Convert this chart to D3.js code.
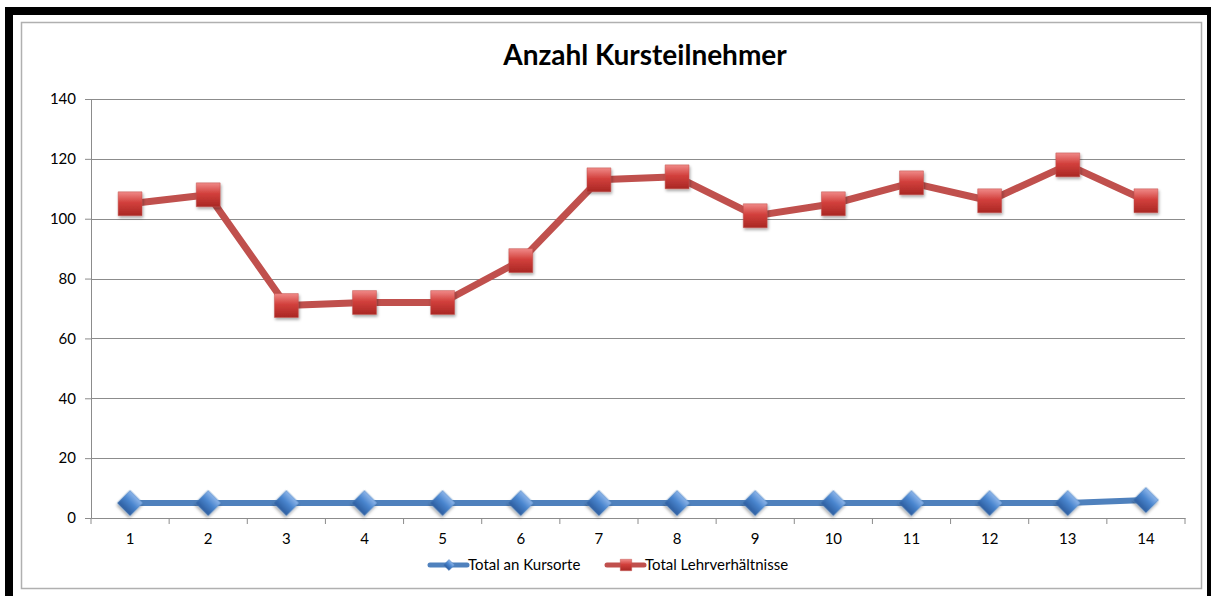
<!DOCTYPE html>
<html>
<head>
<meta charset="utf-8">
<script src="https://cdn.jsdelivr.net/npm/d3@7"></script>
<style>
  body { margin: 0; background: #fff; }
  svg { display: block; font-family: Lato, "Open Sans", sans-serif; }
</style>
</head>
<body>
<svg id="chart"></svg>
<script>
const categories = ["1", "2", "3", "4", "5", "6", "7", "8", "9", "10", "11", "12", "13", "14"];
const kursorte = [5, 5, 5, 5, 5, 5, 5, 5, 5, 5, 5, 5, 5, 6];
const lehrverhaeltnisse = [105, 108, 71, 72, 72, 86, 113, 114, 101, 105, 112, 106, 118, 106];
const yTicks = [0, 20, 40, 60, 80, 100, 120, 140];

const width = 1211;
const height = 596;
const margin = { top: 99, right: 26, bottom: 78, left: 91 };

const svg = d3.select("#chart").attr("width", width).attr("height", height);

// frame
svg.append("rect").attr("x", 9).attr("y", 11).attr("width", 1202).attr("height", 590)
  .attr("fill", "none").attr("stroke", "#000").attr("stroke-width", 8);
svg.append("rect").attr("x", 21.5).attr("y", 22.5).attr("width", 1180).attr("height", 566)
  .attr("fill", "none").attr("stroke", "#b0b0b0").attr("stroke-width", 1.5);

const defs = svg.append("defs");
const redGrad = defs.append("linearGradient").attr("id", "redGrad").attr("x1", 0).attr("y1", 0).attr("x2", 0).attr("y2", 1);
redGrad.append("stop").attr("offset", "0%").attr("stop-color", "#f08a88");
redGrad.append("stop").attr("offset", "45%").attr("stop-color", "#d2403c");
redGrad.append("stop").attr("offset", "100%").attr("stop-color", "#a92724");
const blueGrad = defs.append("linearGradient").attr("id", "blueGrad").attr("x1", 0).attr("y1", 0).attr("x2", 0).attr("y2", 1);
blueGrad.append("stop").attr("offset", "0%").attr("stop-color", "#8fb6ea");
blueGrad.append("stop").attr("offset", "45%").attr("stop-color", "#4a86cf");
blueGrad.append("stop").attr("offset", "100%").attr("stop-color", "#2c5c9e");
const shadow = defs.append("filter").attr("id", "shadow").attr("x", "-50%").attr("y", "-50%").attr("width", "200%").attr("height", "200%");
shadow.append("feDropShadow").attr("dx", 1).attr("dy", 2).attr("stdDeviation", 1.5).attr("flood-color", "#000").attr("flood-opacity", 0.35);

const x = d3.scaleBand().domain(categories).range([margin.left, width - margin.right]);
const y = d3.scaleLinear().domain([0, 140]).range([height - margin.bottom, margin.top]);

// title
svg.append("text").attr("x", 645).attr("y", 65).attr("text-anchor", "middle")
  .attr("font-size", 28).attr("font-weight", "bold").attr("fill", "#000")
  .text("Anzahl Kursteilnehmer");

// grid
svg.append("g").selectAll("line").data(yTicks.filter(d => d > 0)).join("line")
  .attr("x1", margin.left).attr("x2", width - margin.right)
  .attr("y1", d => Math.round(y(d)) + 0.5).attr("y2", d => Math.round(y(d)) + 0.5)
  .attr("stroke", "#8c8c8c").attr("stroke-width", 1);

// y axis
const yAxis = svg.append("g").attr("transform", `translate(${margin.left},0)`)
  .call(d3.axisLeft(y).tickValues(yTicks).tickSize(6).tickPadding(9));
yAxis.select(".domain").attr("stroke", "#8c8c8c");
yAxis.selectAll(".tick line").attr("stroke", "#8c8c8c");
yAxis.selectAll("text").attr("font-size", 15).attr("fill", "#000").attr("font-family", "Lato, sans-serif");

// x axis
const xAxis = svg.append("g").attr("transform", `translate(0,${height - margin.bottom})`)
  .call(d3.axisBottom(x).tickSize(0).tickPadding(15));
xAxis.select(".domain").attr("stroke", "#8c8c8c");
xAxis.selectAll("text").attr("font-size", 15).attr("fill", "#000").attr("font-family", "Lato, sans-serif");
svg.append("g").selectAll("line").data(d3.range(categories.length + 1)).join("line")
  .attr("x1", i => margin.left + i * x.step()).attr("x2", i => margin.left + i * x.step())
  .attr("y1", height - margin.bottom).attr("y2", height - margin.bottom + 6)
  .attr("stroke", "#8c8c8c");

const cx = (d, i) => x(categories[i]) + x.bandwidth() / 2;
const line = d3.line().x(cx).y(d => y(d));

// diamond = square turned 45 degrees
function drawSeries(values, color, grad, diamond, size, lw) {
  svg.append("path").datum(values).attr("d", line).attr("fill", "none")
    .attr("stroke", color).attr("stroke-width", lw).attr("stroke-linejoin", "round");
  svg.append("g").selectAll("path").data(values).join("path")
    .attr("d", d3.symbol().type(d3.symbolSquare).size(size))
    .attr("transform", (d, i) => `translate(${cx(d, i)},${y(d)})${diamond ? " rotate(45)" : ""}`)
    .attr("fill", `url(#${grad})`).attr("stroke", color).attr("stroke-width", 0.5)
    .attr("filter", "url(#shadow)");
}

drawSeries(lehrverhaeltnisse, "#c0504d", "redGrad", false, 570, 7);
drawSeries(kursorte, "#4f81bd", "blueGrad", true, 320, 6);

// legend
const legend = [
  { name: "Total an Kursorte", color: "#4f81bd", grad: "blueGrad", diamond: true, x0: 430 },
  { name: "Total Lehrverhältnisse", color: "#c0504d", grad: "redGrad", diamond: false, x0: 607 }
];
const lg = svg.append("g").selectAll("g").data(legend).join("g")
  .attr("transform", d => `translate(${d.x0},565)`);
lg.append("line").attr("x1", 0).attr("x2", 37).attr("stroke", d => d.color).attr("stroke-width", 5).attr("stroke-linecap", "round");
lg.append("path").attr("d", d => d3.symbol().type(d3.symbolSquare).size(d.diamond ? 60 : 130)())
  .attr("transform", d => `translate(19,0)${d.diamond ? " rotate(45)" : ""}`)
  .attr("fill", d => `url(#${d.grad})`).attr("stroke", d => d.color).attr("stroke-width", 0.5);
lg.append("text").attr("x", 38).attr("y", 5).attr("font-size", 15).attr("fill", "#000").text(d => d.name);
</script>
</body>
</html>
